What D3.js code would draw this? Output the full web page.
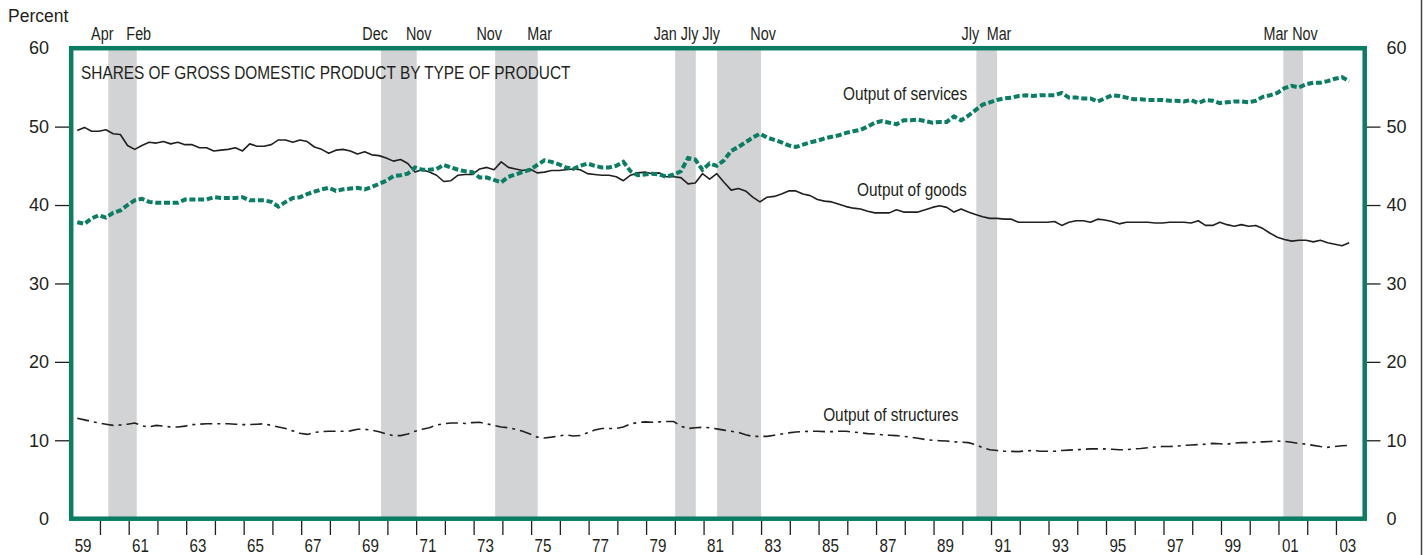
<!DOCTYPE html>
<html>
<head>
<meta charset="utf-8">
<script src="https://cdn.jsdelivr.net/npm/d3@7"></script>
<style>
  body { margin: 0; background: #fff; }
  svg text { fill: #231f20; }
</style>
</head>
<body>
<div id="chart"></div>
<script>
// shares of GDP by type of product, quarterly from 1959Q1 to 2003Q2 (percent)
var startYear = 1959;

var goods = [
  49.5, 49.9, 49.4, 49.4,  49.6, 49.1, 49.0, 47.6,  47.1, 47.6, 48.0, 47.9,
  48.1, 47.8, 48.0, 47.7,  47.7, 47.3, 47.3, 46.9,  47.0, 47.1, 47.3, 46.9,
  47.8, 47.5, 47.5, 47.7,  48.3, 48.3, 48.0, 48.3,  48.1, 47.4, 47.1, 46.6,
  47.0, 47.1, 46.9, 46.5,  46.8, 46.4, 46.3, 46.0,  45.6, 45.8, 45.3, 44.2,
  44.5, 44.2, 43.8, 43.0,  43.1, 43.8, 43.9, 43.9,  44.6, 44.8, 44.5, 45.5,
  44.8, 44.6, 44.4, 44.6,  44.1, 44.2, 44.4, 44.4,  44.5, 44.6, 44.5, 44.0,
  43.9, 43.8, 43.8, 43.6,  43.1, 43.8, 44.1, 44.2,  44.0, 44.1, 43.6, 43.6,
  43.5, 42.7, 42.8, 44.0,  43.3, 44.0, 42.9, 41.9,  42.1, 41.8, 41.0, 40.4,
  41.0, 41.1, 41.4, 41.8,  41.8, 41.4, 41.2, 40.7,  40.5, 40.4, 40.1, 39.8,
  39.6, 39.5, 39.2, 39.0,  39.0, 39.0, 39.4, 39.1,  39.1, 39.1, 39.4, 39.7,
  39.9, 39.7, 39.1, 39.5,  39.1, 38.8, 38.5, 38.3,  38.3, 38.2, 38.2, 37.8,
  37.8, 37.8, 37.8, 37.8,  37.9, 37.4, 37.8, 38.0,  38.0, 37.8, 38.2, 38.1,
  37.9, 37.6, 37.8, 37.8,  37.8, 37.8, 37.7, 37.7,  37.8, 37.8, 37.8, 37.7,
  38.0, 37.4, 37.4, 37.8,  37.5, 37.3, 37.5, 37.3,  37.4, 37.0, 36.4, 35.9,
  35.6, 35.4, 35.5, 35.5,  35.3, 35.5, 35.2, 35.0,  34.8, 35.2
];

var services = [
  37.8, 37.6, 38.3, 38.7,  38.4, 39.0, 39.3, 40.0,  40.6, 40.8, 40.4, 40.3,
  40.3, 40.3, 40.3, 40.7,  40.7, 40.7, 40.7, 41.0,  40.9, 40.9, 40.9, 41.0,
  40.6, 40.6, 40.6, 40.4,  39.8, 40.4, 40.9, 41.0,  41.4, 41.7, 42.0, 42.2,
  41.8, 42.0, 42.1, 42.2,  42.0, 42.3, 42.7, 43.1,  43.7, 43.8, 44.0, 44.8,
  44.5, 44.5, 44.6, 45.1,  44.8, 44.5, 44.3, 44.2,  43.5, 43.5, 43.2, 42.9,
  43.6, 43.9, 44.2, 44.5,  45.1, 45.7, 45.5, 45.2,  44.8, 44.6, 45.0, 45.3,
  45.0, 44.8, 44.8, 45.0,  45.5, 44.3, 43.8, 43.9,  44.0, 43.9, 43.6, 43.9,
  44.3, 46.0, 45.8, 44.5,  45.3, 45.0, 45.7, 46.9,  47.4, 48.0, 48.6, 49.1,
  48.6, 48.3, 48.0, 47.6,  47.4, 47.7, 48.0, 48.2,  48.5, 48.7, 48.9, 49.2,
  49.4, 49.6, 50.0, 50.5,  50.7, 50.5, 50.3, 50.8,  50.8, 50.9, 50.7, 50.5,
  50.6, 50.6, 51.3, 50.8,  51.4, 52.1, 52.8, 53.1,  53.4, 53.6, 53.7, 53.9,
  54.0, 53.9, 54.0, 54.0,  54.0, 54.3, 53.7, 53.7,  53.6, 53.6, 53.2, 53.6,
  54.0, 53.9, 53.7, 53.5,  53.5, 53.4, 53.4, 53.4,  53.3, 53.3, 53.2, 53.4,
  53.0, 53.4, 53.3, 53.0,  53.1, 53.2, 53.2, 53.1,  53.3, 53.8, 54.0, 54.3,
  54.9, 55.2, 55.0, 55.4,  55.6, 55.6, 55.8, 56.1,  56.3, 55.8
];

var structures = [
  12.8, 12.6, 12.4, 12.2,  12.05, 11.9, 11.95, 12.05,  12.2, 11.85, 11.7, 11.9,
  11.8, 11.7, 11.7, 11.8,  12.0, 12.05, 12.1, 12.1,  12.1, 12.1, 12.05, 12.0,
  12.0, 12.05, 12.1, 11.9,  11.7, 11.5, 11.2, 10.9,  10.75, 11.0, 11.1, 11.15,
  11.15, 11.15, 11.2, 11.4,  11.4, 11.3, 11.1, 10.8,  10.6, 10.6, 10.8, 11.15,
  11.4, 11.6, 11.95, 12.1,  12.2, 12.2, 12.15, 12.25,  12.3, 12.1, 11.9, 11.7,
  11.6, 11.4, 11.15, 10.8,  10.4, 10.3, 10.4, 10.55,  10.7, 10.55, 10.6, 10.95,
  11.3, 11.5, 11.5, 11.5,  11.7, 12.1, 12.25, 12.35,  12.3, 12.35, 12.4, 12.4,
  11.8, 11.5, 11.6, 11.65,  11.6, 11.45, 11.3, 11.15,  11.0, 10.7, 10.5, 10.5,
  10.5, 10.65, 10.8, 10.95,  11.05, 11.1, 11.15, 11.15,  11.1, 11.1, 11.15, 11.15,
  11.05, 10.95, 10.85, 10.8,  10.7, 10.65, 10.6, 10.5,  10.4, 10.25, 10.1, 10.0,
  9.95, 9.9, 9.8, 9.75,  9.7, 9.45, 9.05, 8.8,  8.7, 8.6, 8.58, 8.55,
  8.65, 8.7, 8.6, 8.6,  8.6, 8.7, 8.75, 8.8,  8.85, 8.9, 8.9, 8.9,
  8.85, 8.8, 8.8, 8.9,  8.95, 9.05, 9.15, 9.2,  9.2, 9.25, 9.35, 9.4,
  9.45, 9.5, 9.6, 9.55,  9.5, 9.65, 9.7, 9.7,  9.75, 9.8, 9.85, 9.9,
  9.85, 9.75, 9.6, 9.5,  9.35, 9.2, 9.1, 9.2,  9.3, 9.35
];

// recessions (peak, trough), in decimal years
var recStart = [1960.29, 1969.78, 1973.75, 1980.01, 1981.47, 1990.49, 2001.17];
var recEnd   = [1961.28, 1971.02, 1975.23, 1980.73, 1983.00, 1991.21, 2001.85];
var peakNames   = ["Apr", "Dec", "Nov", "Jan", "Jly", "Jly", "Mar"];
var troughNames = ["Feb", "Nov", "Mar", "Jly", "Nov", "Mar", "Nov"];

var yTicks = [0, 10, 20, 30, 40, 50, 60];
var title = "SHARES OF GROSS DOMESTIC PRODUCT BY TYPE OF PRODUCT";

var green = "#0a7d64";
var ink = "#231f20";
var font = "'Liberation Sans', Arial, sans-serif";
var squeeze = 0.82;   // no condensed face installed, so squeeze the glyphs

var W = 1424, H = 555;

var x = d3.scaleLinear().domain([1959, 2004]).range([71.2, 1364.7]);
var y = d3.scaleLinear().domain([0, 60]).range([518.7, 48.2]);

var svg = d3.select("#chart").append("svg")
    .attr("width", W)
    .attr("height", H)
    .attr("font-family", font);

// narrow look: shrink each text to squeeze * its natural width
function narrow(sel) {
  sel.each(function (d) {
    var w = this.getComputedTextLength() * squeeze;
    d3.select(this).attr("textLength", w).attr("lengthAdjust", "spacingAndGlyphs");
    if (d && typeof d === "object") d.w = w;
  });
}

// recession shading
svg.append("g").selectAll("rect")
  .data(recStart)
  .enter().append("rect")
    .attr("x", function (d) { return x(d); })
    .attr("y", y(60))
    .attr("width", function (d, i) { return x(recEnd[i]) - x(d); })
    .attr("height", y(0) - y(60))
    .attr("fill", "#d1d3d4");

// month labels over the bands
var recLabels = [];
recStart.forEach(function (d, i) {
  recLabels.push({text: peakNames[i], cx: x(d) - 6});
  recLabels.push({text: troughNames[i], cx: x(recEnd[i]) + 2});
});

var recText = svg.append("g")
    .attr("font-size", 17.5)
  .selectAll("text")
  .data(recLabels)
  .enter().append("text")
    .attr("text-anchor", "middle")
    .attr("y", 39.5)
    .text(function (d) { return d.text; })
    .call(narrow);

// push crowded labels to the left so they don't overlap
for (var i = recLabels.length - 2; i >= 0; i--) {
  var a = recLabels[i], b = recLabels[i + 1];
  var room = (b.cx - b.w / 2) - 4;
  if (a.cx + a.w / 2 > room) a.cx = room - a.w / 2;
}
recText.attr("x", function (d) { return d.cx; });

// "Percent"
svg.append("text")
    .attr("x", 8)
    .attr("y", 22)
    .attr("font-size", 17.5)
    .text("Percent");

// y axes
var yLeft = svg.append("g")
    .attr("transform", "translate(69,0)")
    .call(d3.axisLeft(y).tickValues(yTicks).tickSize(14).tickPadding(6));
var yRight = svg.append("g")
    .attr("transform", "translate(1366.5,0)")
    .call(d3.axisRight(y).tickValues(yTicks).tickSize(14).tickPadding(6));

[yLeft, yRight].forEach(function (g) {
  g.select(".domain").remove();
  g.attr("font-family", font).attr("font-size", 18);
  g.selectAll(".tick line")
    .attr("stroke", ink)
    .attr("stroke-width", 1.3)
    .filter(function (d) { return d === 0 || d === 60; })
    .remove();
  g.selectAll(".tick text").attr("fill", ink);
});

// x axis: a tick at every year boundary, labels every other year
var xTicks = svg.append("g")
    .attr("transform", "translate(0,521)")
    .call(d3.axisBottom(x).tickValues(d3.range(1960, 2004)).tickSize(14).tickFormat(""));
xTicks.select(".domain").remove();
xTicks.selectAll(".tick line").attr("stroke", ink).attr("stroke-width", 1.3);

svg.append("g")
    .attr("font-size", 18.5)
  .selectAll("text")
  .data(d3.range(1959, 2004, 2))
  .enter().append("text")
    .attr("text-anchor", "middle")
    .attr("x", function (d) { return x(d + 0.5) - 2.5; })
    .attr("y", 552)
    .text(function (d) { return String(d % 100).padStart(2, "0"); })
    .call(narrow);

// series
function qx(d, i) { return x(startYear + i / 4 + 0.21); }
var line = d3.line().x(qx).y(function (d) { return y(d); });

svg.append("path")
    .datum(structures)
    .attr("d", line)
    .attr("fill", "none")
    .attr("stroke", ink)
    .attr("stroke-width", 1.6)
    .attr("stroke-dasharray", "12,5,3,5");

svg.append("path")
    .datum(goods)
    .attr("d", line)
    .attr("fill", "none")
    .attr("stroke", ink)
    .attr("stroke-width", 1.6)
    .attr("stroke-linejoin", "round");

svg.append("path")
    .datum(services)
    .attr("d", line)
    .attr("fill", "none")
    .attr("stroke", green)
    .attr("stroke-width", 4)
    .attr("stroke-dasharray", "6,2.7");

// title and series labels
svg.append("text")
    .attr("x", 81)
    .attr("y", 79)
    .attr("font-size", 18.8)
    .text(title)
    .call(narrow);

var seriesLabels = [
  {text: "Output of services", yr: 1985.85, v: 53.4},
  {text: "Output of goods", yr: 1986.34, v: 41.2},
  {text: "Output of structures", yr: 1985.16, v: 12.5}
];
svg.append("g")
    .attr("font-size", 18.8)
  .selectAll("text")
  .data(seriesLabels)
  .enter().append("text")
    .attr("x", function (d) { return x(d.yr); })
    .attr("y", function (d) { return y(d.v); })
    .text(function (d) { return d.text; })
    .call(narrow);

// frame
svg.append("rect")
    .attr("x", x(1959))
    .attr("y", y(60))
    .attr("width", x(2004) - x(1959))
    .attr("height", y(0) - y(60))
    .attr("fill", "none")
    .attr("stroke", green)
    .attr("stroke-width", 4.5);

// page edge on the right
svg.append("line")
    .attr("x1", 1421.5).attr("x2", 1421.5)
    .attr("y1", 0).attr("y2", H)
    .attr("stroke", "#444")
    .attr("stroke-width", 1.5);
</script>
</body>
</html>
